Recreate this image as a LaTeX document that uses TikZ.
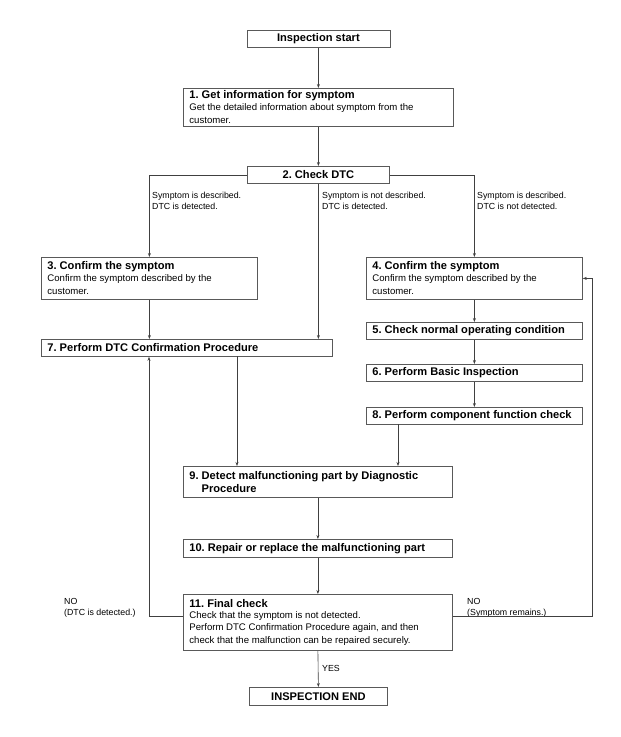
\documentclass[tikz,border=0pt]{standalone}
\usepackage{fontspec}
\setmainfont{Liberation Sans}
\usetikzlibrary{arrows.meta}
\frenchspacing
\newcommand{\hdr}{\fontsize{11.1}{13.5}\selectfont\bfseries}
\newcommand{\bdy}{\fontsize{9.6}{11.5}\selectfont\mdseries}
\newcommand{\lbl}{\fontsize{8.8}{11}\selectfont\mdseries}
\begin{document}
\begin{tikzpicture}[x=1pt,y=-1pt,
  box/.style={draw=black!65, line width=0.8pt, rectangle, anchor=north west,
    inner xsep=6pt, inner ysep=1pt, align=flush left, font=\hdr},
  cbox/.style={draw=black!65, line width=0.8pt, rectangle, anchor=north west,
    inner sep=0pt, align=center, font=\hdr},
  arr/.style={draw=black!75, line width=0.6pt, -{Stealth[length=4pt,width=3pt]}},
  lab/.style={anchor=west, align=flush left, inner sep=0pt, font=\lbl}]
\useasboundingbox (0,0) rectangle (621,737);
% boxes
\node[cbox, minimum width=143pt, minimum height=17pt] (st) at (246.5,30) {Inspection start};
\node[box, minimum width=270pt, minimum height=38pt, text width=258pt] (b1) at (183,88)
  {1. Get information for symptom\\\bdy Get the detailed information about symptom from the\\\bdy customer.};
\node[cbox, minimum width=142pt, minimum height=17pt] (b2) at (247,166) {2. Check DTC};
\node[box, minimum width=216pt, minimum height=42pt, text width=204pt] (b3) at (41,257)
  {3. Confirm the symptom\\\bdy Confirm the symptom described by the\\\bdy customer.};
\node[box, minimum width=216pt, minimum height=42pt, text width=204pt] (b4) at (366,257)
  {4. Confirm the symptom\\\bdy Confirm the symptom described by the\\\bdy customer.};
\node[box, minimum width=216pt, minimum height=17pt, text width=204pt] (b5) at (366,322)
  {5. Check normal operating condition};
\node[box, minimum width=291pt, minimum height=17pt, text width=279pt] (b7) at (41,339)
  {7. Perform DTC Confirmation Procedure};
\node[box, minimum width=216pt, minimum height=17pt, text width=204pt] (b6) at (366,364)
  {6. Perform Basic Inspection};
\node[box, minimum width=216pt, minimum height=17pt, text width=204pt] (b8) at (366,407)
  {8. Perform component function check};
\node[box, minimum width=269pt, minimum height=31pt, text width=257pt] (b9) at (183,466)
  {9. Detect malfunctioning part by Diagnostic\\\phantom{9. }Procedure};
\node[box, minimum width=269pt, minimum height=18pt, text width=257pt] (b10) at (183,539)
  {10. Repair or replace the malfunctioning part};
\node[box, minimum width=269pt, minimum height=56pt, text width=257pt] (b11) at (183,594)
  {11. Final check\\\bdy Check that the symptom is not detected.\\\bdy Perform DTC Confirmation Procedure again, and then\\\bdy check that the malfunction can be repaired securely.};
\node[cbox, minimum width=138pt, minimum height=18pt] (en) at (249,687) {INSPECTION END};
% labels
\node[lab] (l1) at (152,201) {Symptom is described.\\DTC is detected.};
\node[lab] (l2) at (322,201) {Symptom is not described.\\DTC is detected.};
\node[lab] (l3) at (477,201) {Symptom is described.\\DTC is not detected.};
\node[lab, anchor=north west] (nl) at (64,598) {NO\\(DTC is detected.)};
\node[lab, anchor=north west] (nr) at (467,598) {NO\\(Symptom remains.)};
\node[lab] (ys) at (322,668) {YES};
% helper coordinates
\coordinate (d7) at (237,356);
\coordinate (d8) at (398,424);
\coordinate (lp) at (149,616);
\coordinate (rp) at (592,616);
% connectors
\draw[arr] (st.south) -- (b1.north);
\draw[arr] (b1.south -| b2.north) -- (b2.north);
\draw[arr] (b2.west) -| (b3.north);
\draw[arr] (b2.east) -| (b4.north);
\draw[arr] (b2.south) -- (b2.south |- b7.north);
\draw[arr] (b3.south) -- (b3.south |- b7.north);
\draw[arr] (b4.south) -- (b5.north);
\draw[arr] (b5.south) -- (b6.north);
\draw[arr] (b6.south) -- (b8.north);
\draw[arr] (d7) -- (d7 |- b9.north);
\draw[arr] (d8) -- (d8 |- b9.north);
\draw[arr] (b9.south) -- (b10.north);
\draw[arr] (b10.south) -- (b11.north);
\draw[arr] (b11.south) -- (en.north);
\draw[arr] (b11.west |- lp) -- (lp) -- (lp |- b7.south);
\draw[arr] (b11.east |- rp) -- (rp) -- (rp |- b4.east) -- (b4.east);
\end{tikzpicture}
\end{document}
